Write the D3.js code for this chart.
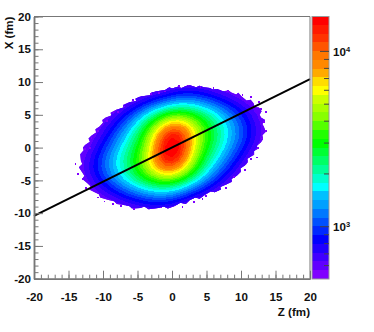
<!DOCTYPE html>
<html>
<head>
<meta charset="utf-8">
<script src="https://d3js.org/d3.v7.min.js"></script>
<style>
  html, body { margin: 0; padding: 0; background: #fff; }
  svg { display: block; }
  text { font-family: "Liberation Sans", Arial, sans-serif; font-weight: bold; font-size: 11.6px; fill: #111; }
</style>
</head>
<body>
<svg width="374" height="332"></svg>
<script>
// Z column values of the grid below (fm)
const zCols = d3.range(-15, 16);
// X row values of the grid below (fm), top row first
const xRows = d3.range(10, -11, -1);

// colour level at each (z, x), one level = 0.05 decade of counts
const levelRows = [
  [0,0,0,0,0,0,0,0,0,0,0,0,0,0,0,0,0,0,0,0,0,0,0,0,0,0,0,0,0,0,0],
  [0,0,0,0,0,0,0,0,0,0,0,0,0,0,0,0,2,2,3,2,2,1,0,0,0,0,0,0,0,0,0],
  [0,0,0,0,0,0,0,0,0,0,0,0,1,2,3,5,6,6,6,5,5,4,3,2,1,0,0,0,0,0,0],
  [0,0,0,0,0,0,0,0,0,1,2,3,5,6,7,8,9,9,9,8,7,6,5,4,3,2,1,0,0,0,0],
  [0,0,0,0,0,0,0,1,2,3,5,7,9,10,11,12,13,13,12,11,10,9,8,7,5,4,3,1,0,0,0],
  [0,0,0,0,0,0,1,2,4,6,8,10,12,14,16,17,18,17,16,15,14,12,10,9,7,6,4,2,1,0,0],
  [0,0,0,0,0,1,2,4,6,8,10,13,15,18,21,24,24,22,20,18,16,14,12,10,8,6,5,3,2,0,0],
  [0,0,0,0,1,2,3,6,8,10,12,15,18,22,26,29,29,26,22,19,16,14,12,10,9,7,5,3,2,0,0],
  [0,0,0,0,1,3,5,7,9,11,13,16,20,25,30,33,33,28,23,19,17,15,13,11,9,7,5,4,2,0,0],
  [0,0,0,1,2,4,6,8,10,12,14,17,21,26,31,34,32,27,22,19,16,14,12,10,8,6,5,3,1,0,0],
  [0,0,0,1,3,5,7,9,11,13,15,18,22,26,31,35,31,26,22,18,16,14,12,10,8,6,4,2,1,0,0],
  [0,0,1,2,4,6,8,10,12,14,16,18,22,27,32,34,31,26,21,17,14,12,10,8,6,4,2,1,0,0,0],
  [0,0,2,3,5,7,9,11,13,15,17,19,23,28,33,33,30,25,20,16,13,11,9,7,5,3,1,0,0,0,0],
  [0,0,2,3,5,7,9,10,12,14,16,19,22,26,29,29,26,22,18,15,12,10,8,6,4,2,1,0,0,0,0],
  [0,0,1,3,5,6,8,10,12,14,16,18,20,22,24,24,21,18,15,13,10,8,6,4,2,1,0,0,0,0,0],
  [0,0,1,2,4,5,7,9,10,12,14,15,16,17,18,17,16,14,12,10,8,6,4,2,1,0,0,0,0,0,0],
  [0,0,0,1,2,4,5,7,8,9,10,11,12,13,13,12,11,10,9,7,5,3,2,1,0,0,0,0,0,0,0],
  [0,0,0,0,1,2,3,4,5,6,7,8,9,9,9,9,8,6,4,3,2,1,0,0,0,0,0,0,0,0,0],
  [0,0,0,0,0,0,1,2,3,4,5,5,6,6,6,5,4,2,1,0,0,0,0,0,0,0,0,0,0,0,0],
  [0,0,0,0,0,0,0,0,0,1,2,2,3,3,2,2,1,0,0,0,0,0,0,0,0,0,0,0,0,0,0],
  [0,0,0,0,0,0,0,0,0,0,0,0,0,0,0,0,0,0,0,0,0,0,0,0,0,0,0,0,0,0,0]
];

// outer edge of the populated bins, [z, x]
const edgeRing = [
  [-1,8.8],[-0.4,9.2],[0,9],[0.8,9.3],[1.4,9.1],[2,9.4],[2.6,9.5],[3.5,9.2],[4,9.45],[4.6,9.2],[5.5,9.1],[5.9,8.85],[6.6,8.95],[7.4,8.6],
  [8.2,8.7],[8.6,8.4],[9.3,8.1],[9.6,8.35],[10.1,7.8],[10.8,7.2],[11.4,7.3],[11.8,6.8],[12,6.2],[12.6,6.1],[13,5.6],[12.7,5],[12.9,4.6],[13.5,4.2],[13.1,3.6],[13.3,3.2],
  [13.6,2.4],[13.1,1.9],[13.2,1.3],[12.9,0.8],[12.3,0.3],[12.4,-0.2],[11.9,-0.5],[11.9,-1.1],[10.9,-1.7],[11,-2.2],[10.7,-2.6],[9.9,-3.2],[10,-3.7],[9.4,-4.3],
  [8.6,-4.8],[8.7,-5.2],[8.1,-5.5],[7,-6],[7.1,-6.4],[6.2,-6.8],[5.6,-6.7],[4.8,-7.2],[4,-7.8],[3.4,-7.6],[2.6,-8],[2,-8.6],[1.2,-8.4],[0.4,-8.9],[-0.6,-9.3],
  [-1.2,-9],[-2,-9.2],[-3.4,-9.4],[-4,-9],[-4.6,-9.2],[-5.8,-9.3],[-6.2,-8.9],[-6.8,-8.8],[-8,-8.6],[-8.4,-8.2],[-9.2,-8],[-10.4,-7.6],[-10.6,-7.1],[-11.2,-6.8],[-12,-6.4],
  [-11.8,-5.9],[-12.3,-5.4],[-13,-4.8],[-12.7,-4.3],[-13,-3.8],[-13.5,-3],[-13,-2.5],[-13.2,-2],[-13.3,-1],[-12.8,-0.4],[-12.9,0],[-12.6,0.4],[-11.9,0.9],[-12.1,1.4],[-11.7,1.8],
  [-11,2.3],[-11.1,2.8],[-10.5,3.2],[-10,3.8],[-10.1,4.2],[-9.6,4.6],[-8.8,4.9],[-8.9,5.3],[-8,5.8],[-7,6.1],[-7.1,6.5],[-6.2,6.9],[-5.2,7.1],[-5.3,7.5],[-4.6,7.8],
  [-3.2,8],[-3,8.4],[-2.2,8.6]
];

// lone bins just outside the edge, [z, x]
const strayBins = [
  [-11.8,1.6],[-12,0.1],[-10.8,2.7],[-9.6,4.2],[-8.6,5.6],[-7.9,5.6],[-7,6.4],[-5.8,7.4],[-3.2,8.3],[-2,8.5],
  [-1.2,8.7],[0.9,9.5],[2.2,9.6],[4,9.4],[5.9,9.2],[8,8.8],[10.1,8.2],[11.3,7.8],[12.5,7.1],[12.8,6],
  [13.5,5.6],[13.2,4],[13.5,2.7],[12.9,1.5],[12.3,0.1],[12.2,-1.4],[11.3,-1.6],[10.4,-3.3],[8.8,-4.4],[7.7,-6],
  [4.8,-7.2],[4.3,-7.7],[3.1,-8.2],[1.4,-8.9],[-12.7,-0.1],[-14.1,-2.4],[-13.8,-3.9],[-13.1,-4.7],[-12.6,-6],[-10.9,-7.5],
  [-9.9,-8.1],[-8.7,-8.5],[-7.5,-8.8],[-5.6,-9.2],[-1.7,-9]
];

// the straight black line
const lineZ = [-20, 20];
const lineX = [-10.4, 10.45];

// colour bar, bottom band first
const bandColors = [
  "#8000ff","#6000ff","#4000ff","#2000ff","#0000ff","#0028ff","#0050ff","#0078ff","#00a0ff","#00c0ff",
  "#00ffff","#00ffcc","#00ff99","#00ff66","#00ff33","#00ff00","#22ff00","#55ff00","#88ff00","#aaff00",
  "#ccff00","#ffff00","#ffdd00","#ffaa00","#ff8800","#ff7700","#ff5500","#ff3300","#ff1a00","#ff0000"
];
const countMin = 500, decadesPerBand = 0.05;

const axisTicks = [-20, -15, -10, -5, 0, 5, 10, 15, 20];
const axisMinor = d3.range(-20, 21);
const barMajor = [1000, 10000];
const barMinor = [600, 700, 800, 900, 2000, 3000, 4000, 5000, 6000, 7000, 8000, 9000];

const svg = d3.select("svg");
const frameColor = "#777";

const zScale = d3.scaleLinear().domain([-20, 20]).range([34, 310]);
const xScale = d3.scaleLinear().domain([-20, 20]).range([278.7, 16.5]);
const countOf = i => countMin * Math.pow(10, i * decadesPerBand);
const barScale = d3.scaleLog().domain([countMin, countOf(bandColors.length)]).range([279, 16]);

svg.append("clipPath").attr("id", "edge")
  .append("path")
  .attr("d", d3.line().x(d => zScale(d[0])).y(d => xScale(d[1])).curve(d3.curveLinearClosed)(edgeRing));

// grid index -> scales; d3.contours puts value i at i + 0.5
const toPlot = d3.geoTransform({
  point(gx, gy) {
    this.stream.point(zScale(zCols[0] + gx - 0.5), xScale(xRows[0] - (gy - 0.5)));
  }
});

// slight blur so the 1 fm reading grid doesn't show as kinks in the bands
const field = {data: levelRows.flat(), width: zCols.length, height: xRows.length};
d3.blur2(field, 0.8);

const contours = d3.contours()
  .size([field.width, field.height])
  .thresholds(d3.range(bandColors.length))(field.data);

svg.append("g").attr("clip-path", "url(#edge)")
  .selectAll("path")
  .data(contours)
  .enter().append("path")
  .attr("d", d3.geoPath(toPlot))
  .attr("fill", d => bandColors[d.value])
  .attr("shape-rendering", "crispEdges");

const binW = zScale(0.2) - zScale(0), binH = xScale(0) - xScale(0.2);
svg.append("g").selectAll("rect")
  .data(strayBins)
  .enter().append("rect")
  .attr("x", d => zScale(d[0]))
  .attr("y", d => xScale(d[1]))
  .attr("width", binW + 0.4)
  .attr("height", binH + 0.4)
  .attr("fill", bandColors[0])
  .attr("shape-rendering", "crispEdges");

// black line
svg.append("path")
  .attr("d", d3.line().x(d => zScale(d)).y((d, i) => xScale(lineX[i]))(lineZ))
  .attr("stroke", "#000")
  .attr("stroke-width", 2)
  .attr("fill", "none");

// frame top and right
svg.append("path")
  .attr("d", `M${zScale(-20)},${xScale(20)}H${zScale(20)}V${xScale(-20)}`)
  .attr("stroke", frameColor).attr("fill", "none");

function styleAxis(g, w) {
  g.selectAll(".domain").attr("stroke", frameColor).attr("stroke-width", w);
  g.selectAll("line").attr("stroke", frameColor);
}

// axes, ticks point into the frame
const plainLabel = d => String(d);
svg.append("g").attr("transform", `translate(0,${xScale(-20)})`)
  .call(d3.axisBottom(zScale).tickValues(axisMinor).tickSize(-4).tickFormat("").tickSizeOuter(0))
  .call(styleAxis, 1.5);
svg.append("g").attr("transform", `translate(0,${xScale(-20)})`)
  .call(d3.axisBottom(zScale).tickValues(axisTicks).tickSize(-8).tickPadding(14).tickFormat(plainLabel).tickSizeOuter(0))
  .call(styleAxis, 1.5);

svg.append("g").attr("transform", `translate(${zScale(-20)},0)`)
  .call(d3.axisLeft(xScale).tickValues(axisMinor).tickSize(-4.5).tickFormat("").tickSizeOuter(0))
  .call(styleAxis, 1.5);
svg.append("g").attr("transform", `translate(${zScale(-20)},0)`)
  .call(d3.axisLeft(xScale).tickValues(axisTicks).tickSize(-9).tickPadding(3).tickFormat(plainLabel).tickSizeOuter(0))
  .call(styleAxis, 1.5);

svg.append("text").attr("x", 310).attr("y", 316).attr("text-anchor", "end").text("Z (fm)");
svg.append("text")
  .attr("transform", "translate(13,16.5) rotate(-90)")
  .attr("text-anchor", "end")
  .text("X (fm)");

// colour bar
const barLeft = 312, barRight = 329;
svg.append("g").selectAll("rect")
  .data(bandColors)
  .enter().append("rect")
  .attr("x", barLeft)
  .attr("width", barRight - barLeft)
  .attr("y", (d, i) => barScale(countOf(i + 1)))
  .attr("height", (d, i) => barScale(countOf(i)) - barScale(countOf(i + 1)))
  .attr("fill", d => d)
  .attr("shape-rendering", "crispEdges");
svg.append("rect")
  .attr("x", barLeft).attr("y", 16.5)
  .attr("width", barRight - barLeft).attr("height", 262.5)
  .attr("fill", "none").attr("stroke", "#999");

const barAxis = g => g.selectAll("line").attr("stroke", "#444");
svg.append("g").attr("transform", `translate(${barRight},0)`)
  .call(d3.axisRight(barScale).tickValues(barMinor).tickSize(-5).tickFormat("").tickSizeOuter(0))
  .call(barAxis).select(".domain").remove();
svg.append("g").attr("transform", `translate(${barRight},0)`)
  .call(d3.axisRight(barScale).tickValues(barMajor).tickSize(-9).tickFormat("").tickSizeOuter(0))
  .call(barAxis).select(".domain").remove();

const barLabels = svg.append("g").selectAll("text")
  .data(barMajor)
  .enter().append("text")
  .attr("x", barRight + 4)
  .attr("y", d => barScale(d) + 5);
barLabels.append("tspan").text("10");
barLabels.append("tspan")
  .attr("dy", -4).style("font-size", "7.5px")
  .text(d => Math.round(Math.log10(d)));
</script>
</body>
</html>
